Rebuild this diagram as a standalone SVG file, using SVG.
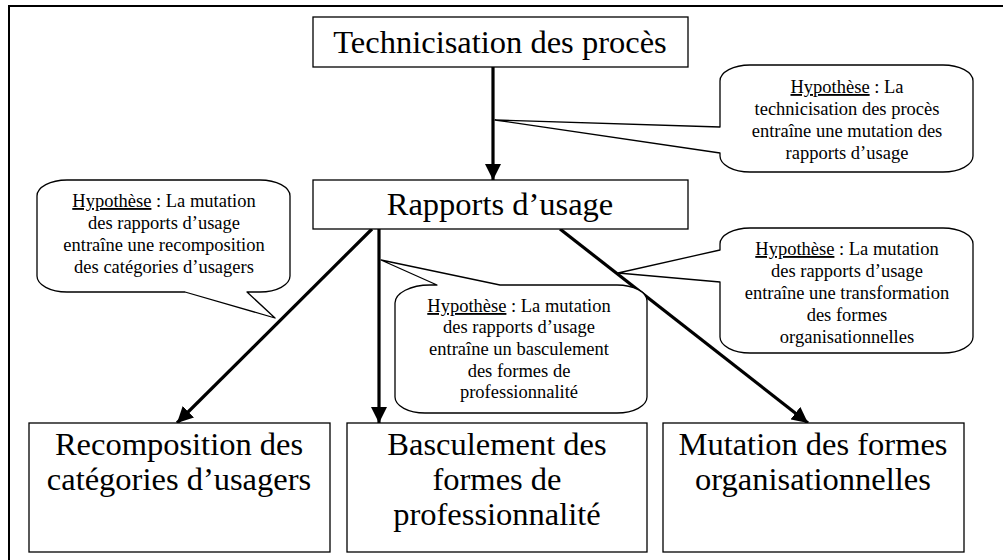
<svg xmlns="http://www.w3.org/2000/svg" width="1003" height="560" viewBox="0 0 1003 560">
<style>
.box{fill:#fff;stroke:#000;stroke-width:1.3}
.call{fill:#fff;stroke:#000;stroke-width:1.3;stroke-linejoin:round}
text{font-family:'Liberation Serif','DejaVu Serif',serif;fill:#000;text-anchor:middle}
.big{font-size:32.5px}
.sm{font-size:18.5px}
.u{text-decoration:underline}
.arr{stroke:#000;stroke-width:3.2;fill:none}
</style>
<defs>
<marker id="ah" markerUnits="userSpaceOnUse" markerWidth="16" markerHeight="16" viewBox="0 0 16 16" refX="16" refY="8" orient="auto">
<path d="M0,0 L16,8 L0,16 Z" fill="#000"/>
</marker>
</defs>
<rect width="1003" height="560" fill="#fff"/>
<path d="M9,560 V6 H1003" fill="none" stroke="#000" stroke-width="2"/>

<g id="connectors">
<line class="arr" x1="493" y1="67" x2="493" y2="180" stroke-width="4" marker-end="url(#ah)"/>
<line class="arr" x1="372" y1="229" x2="177" y2="423" marker-end="url(#ah)"/>
<line class="arr" x1="379" y1="229" x2="379" y2="423" marker-end="url(#ah)"/>
<line class="arr" x1="560" y1="229" x2="808" y2="423" marker-end="url(#ah)"/>
</g>

<g id="n-technicisation">
<rect class="box" x="313" y="17" width="375" height="50"/>
<text class="big" x="500" y="53" font-family="Liberation Serif, serif">Technicisation des procès</text>
</g>

<g id="n-rapports">
<rect class="box" x="313" y="180" width="375" height="49"/>
<text class="big" x="500" y="215">Rapports d’usage</text>
</g>

<g id="n-recomposition">
<rect class="box" x="29" y="423" width="301" height="129"/>
<text class="big" x="179" y="455">Recomposition des</text>
<text class="big" x="179" y="490">catégories d’usagers</text>
</g>

<g id="n-basculement">
<rect class="box" x="347" y="423" width="300" height="129"/>
<text class="big" x="497" y="455">Basculement des</text>
<text class="big" x="497" y="490">formes de</text>
<text class="big" x="497" y="525">professionnalité</text>
</g>

<g id="n-mutation">
<rect class="box" x="663" y="423" width="301" height="129"/>
<text class="big" x="813" y="455">Mutation des formes</text>
<text class="big" x="813" y="490">organisationnelles</text>
</g>

<g id="c-hyp1">
<path class="call" d="M750,65 H943 A30,16 0 0 1 973,81 V156 A30,16 0 0 1 943,172 H750 A30,16 0 0 1 720,156 V153 L495,120 L720,127 V81 A30,16 0 0 1 750,65 Z"/>
<text class="sm" x="847" y="93"><tspan class="u">Hypothèse</tspan> : La</text>
<text class="sm" x="847" y="115">technicisation des procès</text>
<text class="sm" x="847" y="137">entraîne une mutation des</text>
<text class="sm" x="847" y="159">rapports d’usage</text>
</g>

<g id="c-hyp2">
<path class="call" d="M67,180 H260 A30,16 0 0 1 290,196 V276 A30,16 0 0 1 260,292 H247 L275,318 L185,292 H67 A30,16 0 0 1 37,276 V196 A30,16 0 0 1 67,180 Z"/>
<text class="sm" x="164" y="207"><tspan class="u">Hypothèse</tspan> : La mutation</text>
<text class="sm" x="164" y="229">des rapports d’usage</text>
<text class="sm" x="164" y="251">entraîne une recomposition</text>
<text class="sm" x="164" y="273">des catégories d’usagers</text>
</g>

<g id="c-hyp3">
<path class="call" d="M395,303 A35,18 0 0 1 430,285 H437 L381,260 L500,285 H617 A30,16 0 0 1 647,301 V397 A30,16 0 0 1 617,413 H425 A30,16 0 0 1 395,397 Z"/>
<text class="sm" x="519" y="312"><tspan class="u">Hypothèse</tspan> : La mutation</text>
<text class="sm" x="519" y="333">des rapports d’usage</text>
<text class="sm" x="519" y="355">entraîne un basculement</text>
<text class="sm" x="519" y="377">des formes de</text>
<text class="sm" x="519" y="398">professionnalité</text>
</g>

<g id="c-hyp4">
<path class="call" d="M750,228 H943 A30,16 0 0 1 973,244 V337 A30,16 0 0 1 943,353 H750 A30,16 0 0 1 720,337 V282 L618,273 L720,250 V244 A30,16 0 0 1 750,228 Z"/>
<text class="sm" x="847" y="255"><tspan class="u">Hypothèse</tspan> : La mutation</text>
<text class="sm" x="847" y="277">des rapports d’usage</text>
<text class="sm" x="847" y="299">entraîne une transformation</text>
<text class="sm" x="847" y="321">des formes</text>
<text class="sm" x="847" y="343">organisationnelles</text>
</g>
</svg>
